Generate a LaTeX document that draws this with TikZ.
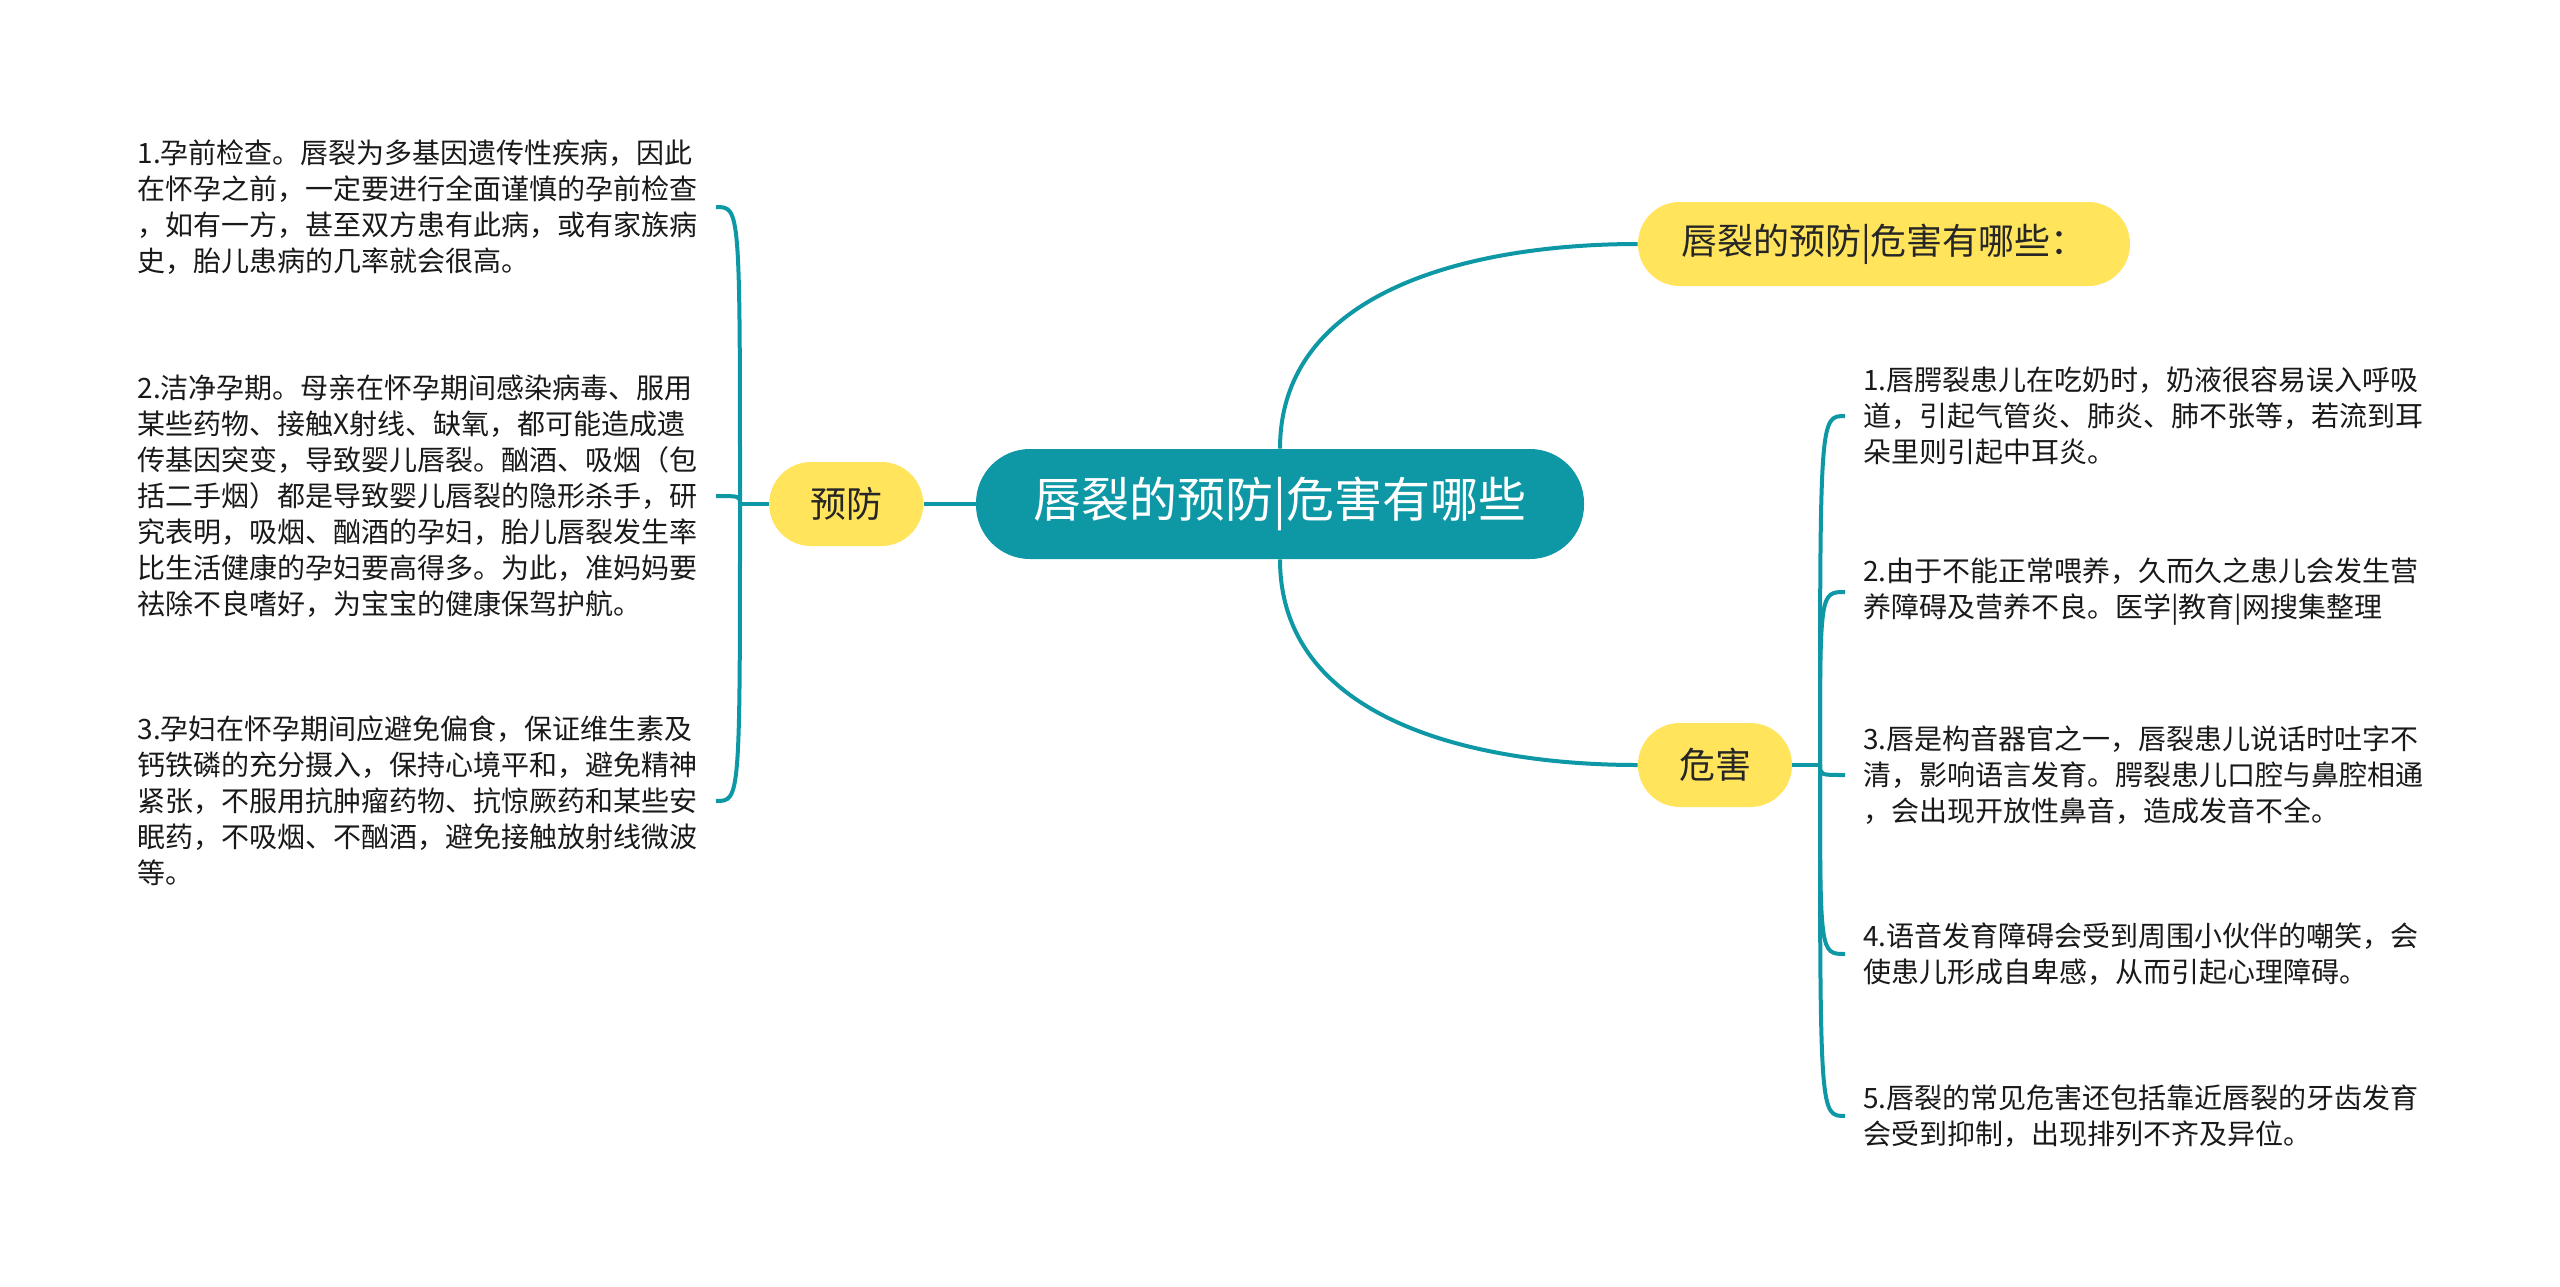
\documentclass[tikz,border=0pt]{standalone}
\usepackage{fontspec}
\setmainfont{Noto Sans CJK SC}
\usetikzlibrary{positioning}
\definecolor{mmteal}{HTML}{0E98A6}
\definecolor{mmyellow}{HTML}{FFE45C}
\tikzset{
  mmlink/.style={draw=mmteal,line width=2pt},
  rootbox/.style={fill=mmteal,text=white,rounded corners=27pt,minimum width=304pt,
                  minimum height=55pt,inner sep=0pt,font=\fontsize{24}{28}\selectfont},
  topicbox/.style={fill=mmyellow,text=black!85,rounded corners=20.9pt,minimum height=42pt,
                   inner sep=0pt,font=\fontsize{18}{22}\selectfont},
  leaftext/.style={align=left,inner xsep=9pt,inner ysep=2pt,text=black!90,
                   font=\fontsize{14}{18}\selectfont}
}

\begin{document}
\begin{tikzpicture}[x=0.5pt,y=-0.5pt]
\fill[white] (0,0) rectangle (2560,1286);
\useasboundingbox (0,0) rectangle (2560,1286);

\node[rootbox] (root) at (1280,504) {唇裂的预防|危害有哪些};
\node[topicbox, minimum width=246pt] (title) at (1884,244) {唇裂的预防|危害有哪些：};
\node[topicbox, minimum width=77pt, left=26pt of root] (prev) {预防};
\node[topicbox, minimum width=77pt] (harm) at (1715,765) {危害};

\coordinate (jl) at (740,504);
\coordinate (jr) at (1820,765);

\node[leaftext, anchor=east] (p1) at (716,207)
   {1.孕前检查。唇裂为多基因遗传性疾病，因此\\
    在怀孕之前，一定要进行全面谨慎的孕前检查\\
    ，如有一方，甚至双方患有此病，或有家族病\\
    史，胎儿患病的几率就会很高。};
\node[leaftext, anchor=east] (p2) at (716,496)
   {2.洁净孕期。母亲在怀孕期间感染病毒、服用\\
    某些药物、接触X射线、缺氧，都可能造成遗\\
    传基因突变，导致婴儿唇裂。酗酒、吸烟（包\\
    括二手烟）都是导致婴儿唇裂的隐形杀手，研\\
    究表明，吸烟、酗酒的孕妇，胎儿唇裂发生率\\
    比生活健康的孕妇要高得多。为此，准妈妈要\\
    祛除不良嗜好，为宝宝的健康保驾护航。};
\node[leaftext, anchor=east] (p3) at (716,801)
   {3.孕妇在怀孕期间应避免偏食，保证维生素及\\
    钙铁磷的充分摄入，保持心境平和，避免精神\\
    紧张，不服用抗肿瘤药物、抗惊厥药和某些安\\
    眠药，不吸烟、不酗酒，避免接触放射线微波\\
    等。};

\node[leaftext, anchor=west] (h1) at (1845,416)
   {1.唇腭裂患儿在吃奶时，奶液很容易误入呼吸\\
    道，引起气管炎、肺炎、肺不张等，若流到耳\\
    朵里则引起中耳炎。};
\node[leaftext, anchor=west] (h2) at (1845,592)
   {2.由于不能正常喂养，久而久之患儿会发生营\\
    养障碍及营养不良。医学|教育|网搜集整理};
\node[leaftext, anchor=west] (h3) at (1845,775)
   {3.唇是构音器官之一，唇裂患儿说话时吐字不\\
    清，影响语言发育。腭裂患儿口腔与鼻腔相通\\
    ，会出现开放性鼻音，造成发音不全。};
\node[leaftext, anchor=west] (h4) at (1845,954)
   {4.语音发育障碍会受到周围小伙伴的嘲笑，会\\
    使患儿形成自卑感，从而引起心理障碍。};
\node[leaftext, anchor=west] (h5) at (1845,1116)
   {5.唇裂的常见危害还包括靠近唇裂的牙齿发育\\
    会受到抑制，出现排列不齐及异位。};

\draw[mmlink] (root.north) to[out=90,in=180] (title.west);
\draw[mmlink] (root.south) to[out=-90,in=180] (harm.west);
\draw[mmlink] (prev.east) -- (root.west);
\draw[mmlink] (prev.west) -- (jl);
\draw[mmlink] (jl) .. controls (jl |- p1.east) .. (p1.east);
\draw[mmlink] (jl) .. controls (jl |- p2.east) .. (p2.east);
\draw[mmlink] (jl) .. controls (jl |- p3.east) .. (p3.east);
\draw[mmlink] (harm.east) -- (jr);
\draw[mmlink] (jr) .. controls (jr |- h1.west) .. (h1.west);
\draw[mmlink] (jr) .. controls (jr |- h2.west) .. (h2.west);
\draw[mmlink] (jr) .. controls (jr |- h3.west) .. (h3.west);
\draw[mmlink] (jr) .. controls (jr |- h4.west) .. (h4.west);
\draw[mmlink] (jr) .. controls (jr |- h5.west) .. (h5.west);
\end{tikzpicture}
\end{document}
